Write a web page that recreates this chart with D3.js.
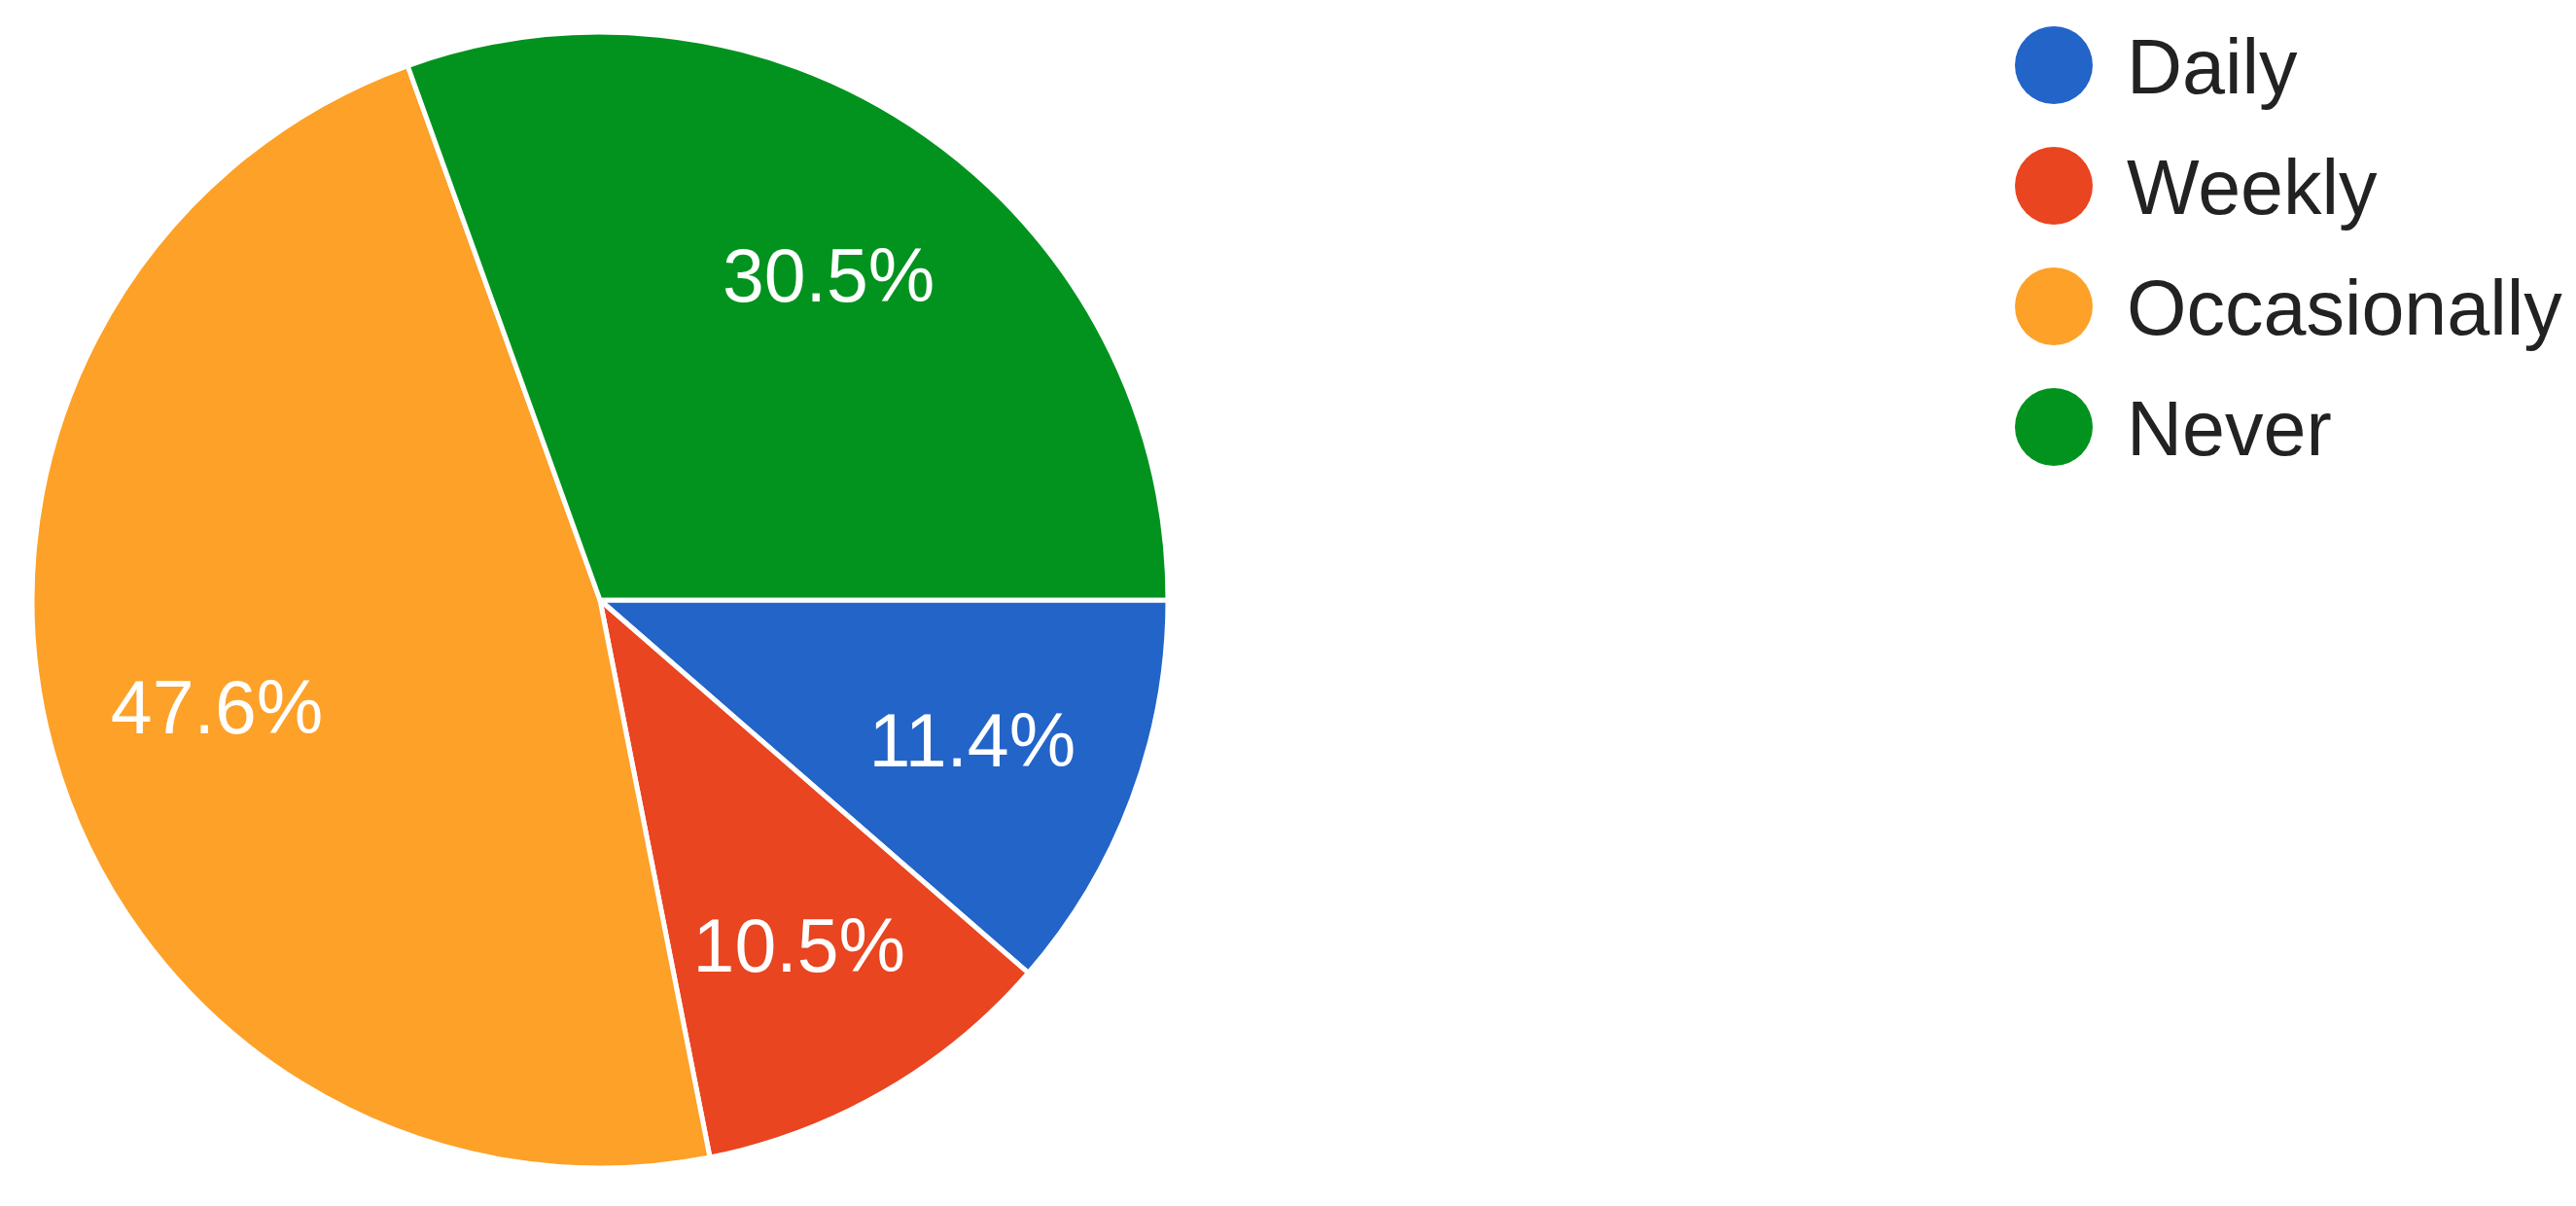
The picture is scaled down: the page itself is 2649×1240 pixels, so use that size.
<!DOCTYPE html>
<html>
<head>
<meta charset="utf-8">
<script src="https://cdn.jsdelivr.net/npm/d3@7"></script>
<style>
  html, body { margin: 0; padding: 0; background: #fff; }
  svg { display: block; }
</style>
</head>
<body>
<svg id="chart" width="2649" height="1240"></svg>
<script>
const categories = ["Daily", "Weekly", "Occasionally", "Never"];
const values = [11.4, 10.5, 47.6, 30.5];
const labels = ["11.4%", "10.5%", "47.6%", "30.5%"];
const colors = ["#2364c8", "#e84520", "#fda128", "#02931f"];

const svg = d3.select("#chart");
const cx = 617, cy = 617, r = 584;

const pie = d3.pie().sort(null).value(d => d.v)
  .startAngle(Math.PI / 2).endAngle(Math.PI / 2 + 2 * Math.PI);
const data = categories.map((c, i) => ({ c, v: values[i], l: labels[i], col: colors[i] }));
const arcs = pie(data);

const arc = d3.arc().innerRadius(0).outerRadius(r);
const labelArc = d3.arc().innerRadius(r * 0.70).outerRadius(r * 0.70);

const g = svg.append("g").attr("transform", `translate(${cx},${cy})`);
g.selectAll("path.slice").data(arcs).join("path")
  .attr("class", "slice")
  .attr("d", arc)
  .attr("fill", d => d.data.col)
  .attr("stroke", "#fff")
  .attr("stroke-width", 5)
  .attr("stroke-linejoin", "round");

g.selectAll("text.lbl").data(arcs).join("text")
  .attr("class", "lbl")
  .attr("transform", d => `translate(${labelArc.centroid(d)})`)
  .attr("text-anchor", "middle")
  .attr("dy", "0.36em")
  .attr("fill", "#fff")
  .attr("font-family", "Liberation Sans, Arial, sans-serif")
  .attr("font-size", 77)
  .text(d => d.data.l);

// Legend
const legendY = d3.scalePoint().domain(categories).range([67, 439]);
const lg = svg.append("g");
const items = lg.selectAll("g.item").data(data).join("g")
  .attr("class", "item")
  .attr("transform", d => `translate(2112,${legendY(d.c)})`);
items.append("circle").attr("r", 40).attr("fill", d => d.col);
items.append("text")
  .attr("x", 75)
  .attr("y", 29)
  .attr("fill", "#222")
  .attr("font-family", "Liberation Sans, Arial, sans-serif")
  .attr("font-size", 79)
  .text(d => d.c);
</script>
</body>
</html>
